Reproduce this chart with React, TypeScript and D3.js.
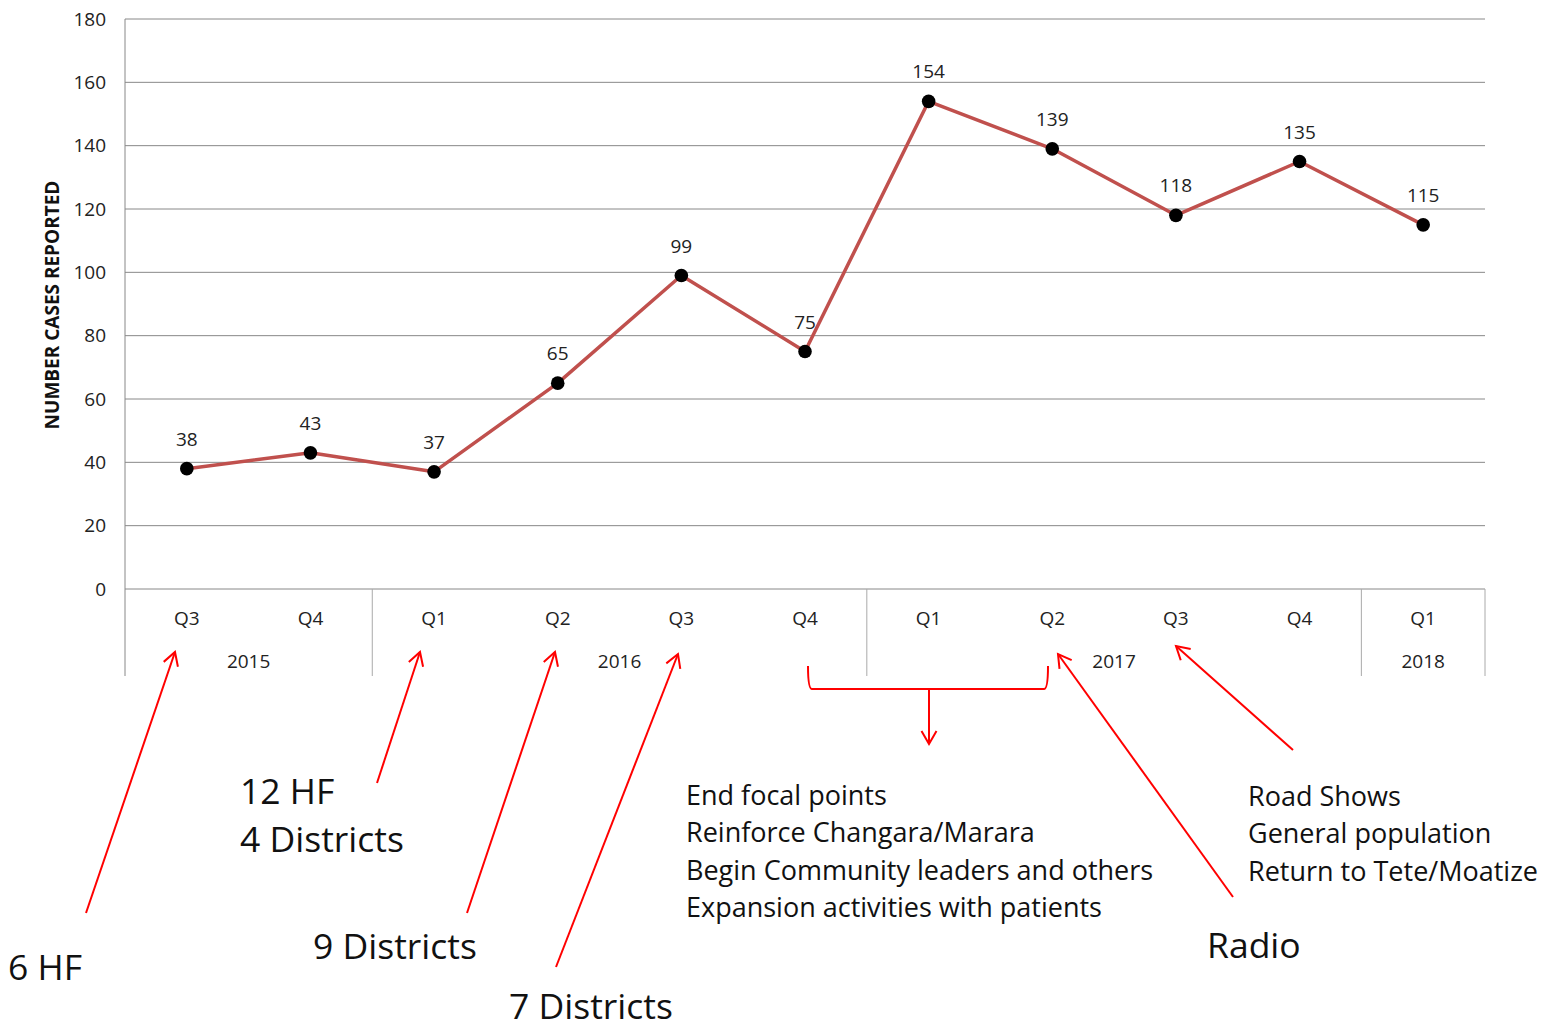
import React from "react";
import * as d3 from "d3";

const quarters = ["Q3", "Q4", "Q1", "Q2", "Q3", "Q4", "Q1", "Q2", "Q3", "Q4", "Q1"];
const years = ["2015", "2016", "2017", "2018"];
const yearSpans = [2, 4, 4, 1];
const cases = [38, 43, 37, 65, 99, 75, 154, 139, 118, 135, 115];
const yTicks = [0, 20, 40, 60, 80, 100, 120, 140, 160, 180];

const bigLabels = [
  { lines: ["6 HF"], x: 8, y: 980 },
  { lines: ["12 HF", "4 Districts"], x: 240, y: 804 },
  { lines: ["9 Districts"], x: 313, y: 959 },
  { lines: ["7 Districts"], x: 509, y: 1019 },
  { lines: ["Radio"], x: 1207, y: 958 },
];
const midLabels = [
  { lines: ["End focal points", "Reinforce Changara/Marara", "Begin Community leaders and others", "Expansion activities with patients"], x: 686, y: 805 },
  { lines: ["Road Shows", "General population", "Return to Tete/Moatize"], x: 1248, y: 806 },
];
const arrows = [
  [86, 913, 175, 652],
  [377, 783, 420, 652],
  [467, 913, 555, 652],
  [556, 967, 678, 654],
  [929, 689, 929, 744],
  [1233, 897, 1058, 654],
  [1293, 750, 1176, 646],
];

const W = 1544, H = 1028;
const left = 125, right = 1485, top = 19, bottom = 589, axisBottom = 676;
const FONT = "'Open Sans', 'Liberation Sans', sans-serif";

export default function App() {
  const x = d3.scaleBand<number>().domain(d3.range(quarters.length)).range([left, right]);
  const y = d3.scaleLinear().domain([0, 180]).range([bottom, top]);
  const cx = (i: number) => (x(i) as number) + x.bandwidth() / 2;
  const line = d3.line<number>().x((_, i) => cx(i)).y((d) => y(d));

  const bounds: number[] = [0];
  yearSpans.forEach((s) => bounds.push(bounds[bounds.length - 1] + s));

  const arrowHead = (x1: number, y1: number, x2: number, y2: number) => {
    const a = Math.atan2(y2 - y1, x2 - x1);
    const L = 15, sp = Math.PI / 6;
    const p1 = [x2 - L * Math.cos(a - sp), y2 - L * Math.sin(a - sp)];
    const p2 = [x2 - L * Math.cos(a + sp), y2 - L * Math.sin(a + sp)];
    return `M${p1[0]},${p1[1]}L${x2},${y2}L${p2[0]},${p2[1]}`;
  };

  return (
    <svg width={W} height={H} style={{ position: "absolute", left: 0, top: 0, background: "#fff" }} fontFamily={FONT}>
      {yTicks.map((t) => (
        <g key={t}>
          <line x1={left} x2={right} y1={y(t)} y2={y(t)} stroke="#888" strokeWidth={1} />
          <text x={106} y={y(t)} dy="0.35em" textAnchor="end" fontSize={19} fill="#222">{t}</text>
        </g>
      ))}
      <line x1={left} x2={left} y1={top} y2={axisBottom} stroke="#888" />
      {bounds.slice(1).map((b, i) => (
        <line key={i} x1={x(b - 1)! + x.bandwidth()} x2={x(b - 1)! + x.bandwidth()} y1={bottom} y2={axisBottom} stroke="#aaa" />
      ))}
      {quarters.map((q, i) => (
        <text key={i} x={cx(i)} y={625} textAnchor="middle" fontSize={19} fill="#222">{q}</text>
      ))}
      {years.map((yr, i) => {
        const x0 = x(bounds[i])!;
        const x1 = x(bounds[i + 1] - 1)! + x.bandwidth();
        return <text key={yr} x={(x0 + x1) / 2} y={668} textAnchor="middle" fontSize={19} fill="#222">{yr}</text>;
      })}
      <text transform="translate(59,305) rotate(-90)" textAnchor="middle" fontSize={19} fontWeight="bold" fill="#111">NUMBER CASES REPORTED</text>
      <path d={line(cases) || ""} fill="none" stroke="#c0504d" strokeWidth={3.5} strokeLinejoin="round" />
      {cases.map((v, i) => (
        <g key={i}>
          <circle cx={cx(i)} cy={y(v)} r={6.8} fill="#000" />
          <text x={cx(i)} y={y(v) - 23} textAnchor="middle" fontSize={19} fill="#222">{v}</text>
        </g>
      ))}
      {/* annotations */}
      <path d="M808,666 Q808,689 812,689 L1044,689 Q1048,689 1048,666" fill="none" stroke="red" strokeWidth={2} />
      {arrows.map(([x1, y1, x2, y2], i) => (
        <g key={i}>
          <line x1={x1} y1={y1} x2={x2} y2={y2} stroke="red" strokeWidth={2} />
          <path d={arrowHead(x1, y1, x2, y2)} fill="none" stroke="red" strokeWidth={2} />
        </g>
      ))}
      {bigLabels.map((l, i) => (
        <text key={i} x={l.x} y={l.y} fontSize={35.5} fill="#111">
          {l.lines.map((s, j) => <tspan key={j} x={l.x} dy={j === 0 ? 0 : 48}>{s}</tspan>)}
        </text>
      ))}
      {midLabels.map((l, i) => (
        <text key={i} x={l.x} y={l.y} fontSize={27} fill="#111">
          {l.lines.map((s, j) => <tspan key={j} x={l.x} dy={j === 0 ? 0 : 37.3}>{s}</tspan>)}
        </text>
      ))}
    </svg>
  );
}
